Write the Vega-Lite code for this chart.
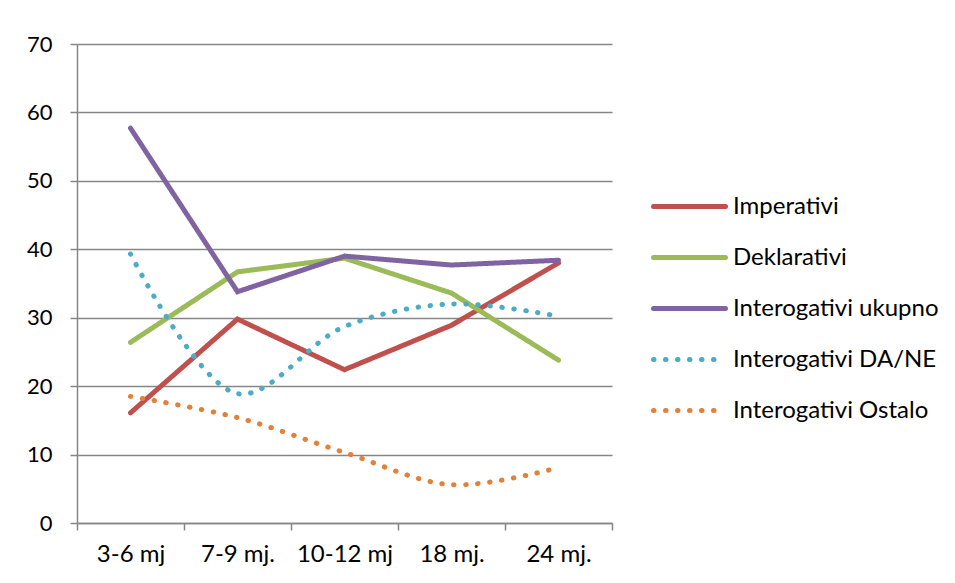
{
  "$schema": "https://vega.github.io/schema/vega-lite/v6.json",
  "width": 535,
  "height": 479,
  "autosize": "none",
  "padding": {"left": 77, "top": 44, "right": 343, "bottom": 60},
  "background": "white",
  "config": {
    "font": "Lato",
    "view": {"stroke": null},
    "axis": {"labelFont": "Lato", "labelColor": "#000000", "domainColor": "#868686", "tickColor": "#868686", "gridColor": "#868686", "domainWidth": 1.5, "tickWidth": 1.5, "gridWidth": 1.5}
  },
  "data": {
    "values": [
      {"age": "3-6 mj", "series": "Imperativi", "value": 16.1},
      {"age": "7-9 mj.", "series": "Imperativi", "value": 29.8},
      {"age": "10-12 mj", "series": "Imperativi", "value": 22.4},
      {"age": "18 mj.", "series": "Imperativi", "value": 28.9},
      {"age": "24 mj.", "series": "Imperativi", "value": 38.0},
      {"age": "3-6 mj", "series": "Deklarativi", "value": 26.4},
      {"age": "7-9 mj.", "series": "Deklarativi", "value": 36.7},
      {"age": "10-12 mj", "series": "Deklarativi", "value": 38.7},
      {"age": "18 mj.", "series": "Deklarativi", "value": 33.6},
      {"age": "24 mj.", "series": "Deklarativi", "value": 23.8},
      {"age": "3-6 mj", "series": "Interogativi ukupno", "value": 57.7},
      {"age": "7-9 mj.", "series": "Interogativi ukupno", "value": 33.8},
      {"age": "10-12 mj", "series": "Interogativi ukupno", "value": 39.0},
      {"age": "18 mj.", "series": "Interogativi ukupno", "value": 37.7},
      {"age": "24 mj.", "series": "Interogativi ukupno", "value": 38.4},
      {"age": "3-6 mj", "series": "Interogativi DA/NE", "value": 39.3},
      {"age": "7-9 mj.", "series": "Interogativi DA/NE", "value": 18.9},
      {"age": "10-12 mj", "series": "Interogativi DA/NE", "value": 28.7},
      {"age": "18 mj.", "series": "Interogativi DA/NE", "value": 32.0},
      {"age": "24 mj.", "series": "Interogativi DA/NE", "value": 30.2},
      {"age": "3-6 mj", "series": "Interogativi Ostalo", "value": 18.5},
      {"age": "7-9 mj.", "series": "Interogativi Ostalo", "value": 15.4},
      {"age": "10-12 mj", "series": "Interogativi Ostalo", "value": 10.3},
      {"age": "18 mj.", "series": "Interogativi Ostalo", "value": 5.6},
      {"age": "24 mj.", "series": "Interogativi Ostalo", "value": 8.1}
    ]
  },
  "encoding": {
    "x": {
      "field": "age", "type": "nominal", "bandPosition": 0.5,
      "sort": ["3-6 mj", "7-9 mj.", "10-12 mj", "18 mj.", "24 mj."],
      "scale": {"type": "band", "paddingInner": 0, "paddingOuter": 0},
      "axis": {"title": null, "labelAngle": 0, "labelFontSize": 24, "tickBand": "extent", "tickSize": 7, "labelPadding": 12, "grid": false}
    },
    "y": {
      "field": "value", "type": "quantitative",
      "scale": {"domain": [0, 70], "nice": false},
      "axis": {"title": null, "values": [0, 10, 20, 30, 40, 50, 60, 70], "labelFontSize": 22, "tickSize": 7, "labelPadding": 18, "grid": true}
    },
    "color": {
      "field": "series", "type": "nominal",
      "scale": {"domain": ["Imperativi", "Deklarativi", "Interogativi ukupno", "Interogativi DA/NE", "Interogativi Ostalo"], "range": ["#C0504D", "#9BBB59", "#8064A2", "#4BACC6", "#E2823A"]},
      "legend": {
        "title": null, "orient": "none", "legendX": 574, "legendY": 124,
        "symbolType": "stroke", "symbolSize": 5184, "symbolStrokeWidth": 5,
        "labelFont": "Lato", "labelFontSize": 24, "labelColor": "#000000", "labelOffset": 5, "labelLimit": 400, "rowPadding": -5,
        "encode": {"symbols": {"update": {"strokeCap": {"value": "round"}}}}
      }
    },
    "strokeDash": {
      "field": "series", "type": "nominal",
      "scale": {"domain": ["Imperativi", "Deklarativi", "Interogativi ukupno", "Interogativi DA/NE", "Interogativi Ostalo"], "range": [[1, 0], [1, 0], [1, 0], [0.5, 11.5], [0.5, 11.5]]},
      "legend": null
    }
  },
  "layer": [
    {
      "transform": [{"filter": "indexof(['Imperativi','Deklarativi','Interogativi ukupno'], datum.series) >= 0"}],
      "mark": {"type": "line", "strokeWidth": 5, "strokeCap": "round", "strokeJoin": "miter"}
    },
    {
      "transform": [{"filter": "indexof(['Interogativi DA/NE','Interogativi Ostalo'], datum.series) >= 0"}],
      "mark": {"type": "line", "strokeWidth": 5, "strokeCap": "round", "interpolate": "catmull-rom"}
    }
  ]
}
